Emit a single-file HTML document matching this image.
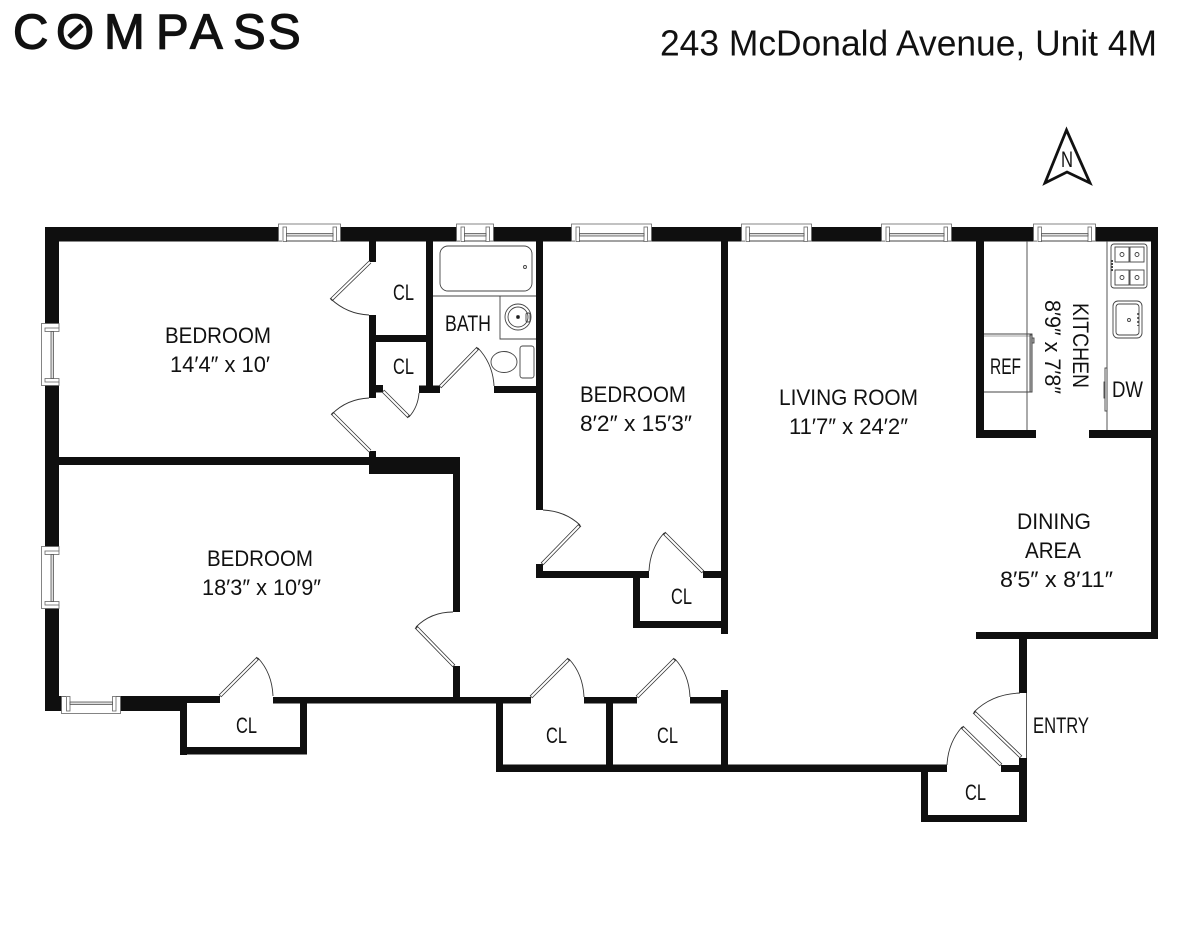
<!DOCTYPE html>
<html><head><meta charset="utf-8"><title>243 McDonald Avenue, Unit 4M</title>
<style>html,body{margin:0;padding:0;background:#fff}svg{display:block}
text{font-family:"Liberation Sans",sans-serif;fill:#111;font-size:22px}
.thin{fill:none;stroke:#444;stroke-width:.9}
.arc{fill:none;stroke:#333;stroke-width:.9}.po{stroke:#333;stroke-width:3.600}.pi{stroke:#fff;stroke-width:2}
.f{fill:#fff;stroke:#666;stroke-width:.8}.s{fill:#ddd;stroke:#555;stroke-width:.8}</style></head>
<body>
<svg width="1200" height="927" viewBox="0 0 1200 927" xmlns="http://www.w3.org/2000/svg">
<rect width="1200" height="927" fill="#fff"/>
<!-- logo -->
<text y="48.500" x="13 56 104 156 190 233 268" style="font-size:49px;stroke:#111;stroke-width:1.200">COMPASS</text>
<line x1="69" y1="37" x2="82" y2="25" stroke="#111" stroke-width="5"/>
<text x="660" y="55.500" textLength="497" lengthAdjust="spacingAndGlyphs" style="font-size:36px">243 McDonald Avenue, Unit 4M</text>
<!-- north -->
<path d="M1066.500 130L1045 183L1067 172L1090 183Z" fill="#fff" stroke="#111" stroke-width="2.800"/>
<text x="1061" y="167" textLength="12" lengthAdjust="spacingAndGlyphs">N</text>
<!-- walls -->
<g fill="#0f0f0f">
<rect x="45" y="227" width="1113" height="14.500"/>
<rect x="45" y="227" width="14" height="484"/>
<rect x="1151" y="227" width="7" height="412"/>
<rect x="45" y="696" width="21" height="15"/>
<rect x="116" y="696" width="104" height="7"/>
<rect x="116" y="703" width="71" height="8"/>
<rect x="180" y="703" width="7" height="52"/>
<rect x="180" y="747" width="127" height="7.500"/>
<rect x="300" y="697" width="7" height="57"/>
<rect x="273" y="697" width="258" height="6.500"/>
<rect x="59" y="457" width="315" height="8"/>
<rect x="369" y="241" width="7" height="21"/>
<rect x="369" y="315" width="7" height="83"/>
<rect x="369" y="451" width="7" height="12"/>
<rect x="369" y="457" width="91" height="17"/>
<rect x="453" y="474" width="7" height="138"/>
<rect x="453" y="666" width="7" height="34"/>
<rect x="376" y="335" width="50" height="7"/>
<rect x="426" y="241" width="7" height="152"/>
<rect x="376" y="385" width="7" height="7.500"/>
<rect x="419" y="385.500" width="21" height="7.500"/>
<rect x="494" y="386" width="42" height="7"/>
<rect x="536" y="241" width="7" height="269"/>
<rect x="536" y="564" width="7" height="14"/>
<rect x="536" y="571" width="113" height="7"/>
<rect x="633" y="571" width="7" height="57"/>
<rect x="633" y="621" width="95" height="7"/>
<rect x="703" y="571" width="18" height="7"/>
<rect x="721" y="241" width="7" height="393"/>
<rect x="721" y="690" width="7" height="82"/>
<rect x="584" y="697" width="53" height="6.500"/>
<rect x="690" y="697" width="31" height="6.500"/>
<rect x="496" y="697" width="7" height="75"/>
<rect x="606" y="697" width="7" height="75"/>
<rect x="496" y="764.500" width="451" height="7.500"/>
<rect x="976" y="241" width="8" height="197"/>
<rect x="976" y="430" width="60" height="8"/>
<rect x="1089" y="430" width="69" height="8"/>
<rect x="976" y="632" width="182" height="7"/>
<rect x="1019" y="639" width="8" height="54"/>
<rect x="1019" y="758" width="8" height="64"/>
<rect x="1001" y="765" width="18" height="7"/>
<rect x="921" y="765" width="7" height="57"/>
<rect x="921" y="815" width="106" height="7"/>
</g>
<!-- windows -->
<g>
<rect class="f" x="278.500" y="224" width="62" height="17"/><rect fill="#fff" x="282" y="227" width="55" height="15"/><rect class="f" x="283" y="227" width="3.500" height="14.500"/><rect class="f" x="333" y="227" width="3.500" height="14.500"/><rect class="s" x="286.500" y="233.500" width="46.500" height="2.500"/><line class="thin" x1="286" y1="241" x2="333" y2="241"/>
<rect class="f" x="456.500" y="224" width="37" height="17"/><rect fill="#fff" x="460" y="227" width="30" height="15"/><rect class="f" x="461" y="227" width="3.500" height="14.500"/><rect class="f" x="486" y="227" width="3.500" height="14.500"/><rect class="s" x="464.500" y="233.500" width="21.500" height="2.500"/><line class="thin" x1="464" y1="241" x2="486" y2="241"/>
<rect class="f" x="571.500" y="224" width="80" height="17"/><rect fill="#fff" x="575" y="227" width="73" height="15"/><rect class="f" x="576" y="227" width="3.500" height="14.500"/><rect class="f" x="644" y="227" width="3.500" height="14.500"/><rect class="s" x="579.500" y="233.500" width="64.500" height="2.500"/><line class="thin" x1="579" y1="241" x2="644" y2="241"/>
<rect class="f" x="741.500" y="224" width="70" height="17"/><rect fill="#fff" x="745" y="227" width="63" height="15"/><rect class="f" x="746" y="227" width="3.500" height="14.500"/><rect class="f" x="804" y="227" width="3.500" height="14.500"/><rect class="s" x="749.500" y="233.500" width="54.500" height="2.500"/><line class="thin" x1="749" y1="241" x2="804" y2="241"/>
<rect class="f" x="881.500" y="224" width="70" height="17"/><rect fill="#fff" x="885" y="227" width="63" height="15"/><rect class="f" x="886" y="227" width="3.500" height="14.500"/><rect class="f" x="944" y="227" width="3.500" height="14.500"/><rect class="s" x="889.500" y="233.500" width="54.500" height="2.500"/><line class="thin" x1="889" y1="241" x2="944" y2="241"/>
<rect class="f" x="1033.500" y="224" width="62" height="17"/><rect fill="#fff" x="1037" y="227" width="55" height="15"/><rect class="f" x="1038" y="227" width="3.500" height="14.500"/><rect class="f" x="1088" y="227" width="3.500" height="14.500"/><rect class="s" x="1041.500" y="233.500" width="46.500" height="2.500"/><line class="thin" x1="1041" y1="241" x2="1088" y2="241"/>
<rect class="f" x="41.500" y="323.500" width="17.500" height="62"/><rect fill="#fff" x="45" y="328" width="14.500" height="54"/><rect class="f" x="45" y="328" width="14" height="3.500"/><rect class="f" x="45" y="378.500" width="14" height="3.500"/><rect class="s" x="51" y="331.500" width="2.500" height="47"/>
<rect class="f" x="41.500" y="546.500" width="17.500" height="62"/><rect fill="#fff" x="45" y="551" width="14.500" height="54"/><rect class="f" x="45" y="551" width="14" height="3.500"/><rect class="f" x="45" y="601.500" width="14" height="3.500"/><rect class="s" x="51" y="554.500" width="2.500" height="47"/>
<rect class="f" x="61.500" y="696.500" width="59" height="17"/><rect fill="#fff" x="66" y="696" width="50" height="15"/><rect class="f" x="66.500" y="696.500" width="3.500" height="14.500"/><rect class="f" x="112.500" y="696.500" width="3.500" height="14.500"/><rect class="s" x="70" y="702" width="42.500" height="2.500"/>
</g>
<!-- doors -->
<g fill="none">
<path class="arc" d="M331 299Q347 314 369 315"/><line class="po" x1="370" y1="262" x2="331" y2="300"/><line class="pi" x1="370" y1="262" x2="332" y2="299"/>
<path class="arc" d="M332 414Q347 399 369 398"/><line class="po" x1="370" y1="451" x2="332" y2="413"/><line class="pi" x1="370" y1="451" x2="333" y2="414"/>
<path class="arc" d="M409 417Q418 407 419 393"/><line class="po" x1="383" y1="391" x2="409" y2="417"/><line class="pi" x1="383.500" y1="391.500" x2="408" y2="416"/>
<path class="arc" d="M478 348Q493 364 494 386"/><line class="po" x1="440" y1="387" x2="478" y2="348"/><line class="pi" x1="440.500" y1="386.500" x2="477" y2="349"/>
<path class="arc" d="M580 525Q565 511 543 510"/><line class="po" x1="542" y1="564" x2="580" y2="525"/><line class="pi" x1="542.500" y1="563.500" x2="579" y2="526"/>
<path class="arc" d="M664 533Q650 549 649 571"/><line class="po" x1="703" y1="572" x2="664" y2="533"/><line class="pi" x1="702.500" y1="571.500" x2="665" y2="534"/>
<path class="arc" d="M416 627Q431 612 453 612"/><line class="po" x1="454" y1="666" x2="416" y2="627"/><line class="pi" x1="453.500" y1="665.500" x2="417" y2="628"/>
<path class="arc" d="M569 659Q583 674 584 697"/><line class="po" x1="531" y1="697" x2="569" y2="659"/><line class="pi" x1="531.500" y1="696.500" x2="568" y2="660"/>
<path class="arc" d="M675 659Q689 674 690 697"/><line class="po" x1="637" y1="697" x2="675" y2="659"/><line class="pi" x1="637.500" y1="696.500" x2="674" y2="660"/>
<path class="arc" d="M258 658Q272 673 273 696"/><line class="po" x1="220" y1="696" x2="258" y2="658"/><line class="pi" x1="220.500" y1="695.500" x2="257" y2="659"/>
<path class="arc" d="M974 712Q992 694 1020 693"/><line class="po" x1="1021" y1="757" x2="974" y2="712"/><line class="pi" x1="1020.500" y1="756.500" x2="975" y2="713"/>
<path class="arc" d="M962 727Q948 743 947 765"/><line class="po" x1="1001" y1="765" x2="962" y2="727"/><line class="pi" x1="1000.500" y1="764.500" x2="963" y2="728"/>
<line class="thin" x1="1026.500" y1="693" x2="1026.500" y2="758"/>
</g>
<!-- bath fixtures -->
<g class="thin">
<rect x="440" y="246" width="92" height="45" rx="8"/><circle cx="525" cy="267" r="1.500"/>
<path d="M433 296H536M500 296V339H536"/>
<circle cx="518" cy="317" r="13"/><circle cx="518" cy="317" r="10"/><circle cx="518" cy="317" r="1.500" fill="#111"/>
<rect x="526" y="313" width="4" height="9" rx="1.500"/>
<ellipse cx="504" cy="362" rx="13" ry="10.500"/><rect x="520" y="346" width="14" height="32" rx="2.500"/>
</g>
<!-- kitchen fixtures -->
<g class="thin">
<path d="M1027 241V430M1107 241V430"/>
<path d="M984 334H1032V392H984"/><path d="M984 336H1030" stroke-width=".6"/><rect x="1030" y="335" width="2" height="57" fill="#bbb"/><rect x="1032" y="338" width="2" height="5" fill="#bbb"/>
<rect x="1111" y="244" width="36" height="44" rx="3"/><rect x="1115" y="247" width="14" height="15"/><rect x="1130" y="247" width="14" height="15"/><rect x="1115" y="270" width="14" height="15"/><rect x="1130" y="270" width="14" height="15"/>
<circle cx="1122" cy="254.500" r="2"/><circle cx="1137" cy="254.500" r="2"/><circle cx="1122" cy="277.500" r="2"/><circle cx="1137" cy="277.500" r="2"/>
<path d="M1112 260V272" stroke-dasharray="2 1" stroke-width="2"/>
<rect x="1113" y="301" width="29" height="37" rx="5"/><rect x="1116" y="304" width="23" height="31" rx="3"/><circle cx="1129" cy="320" r="1.500"/>
<path d="M1138 313V326" stroke-dasharray="2 2" stroke-width="1.500"/>
<rect x="1105" y="368" width="2" height="43" fill="#fff"/><rect x="1104" y="382" width="1" height="16" fill="#ccc"/>
</g>
<!-- labels -->
<text x="165" y="343" textLength="106" lengthAdjust="spacingAndGlyphs">BEDROOM</text>
<text x="170" y="372" textLength="100" lengthAdjust="spacingAndGlyphs">14′4″ x 10′</text>
<text x="207" y="566" textLength="106" lengthAdjust="spacingAndGlyphs">BEDROOM</text>
<text x="202" y="595" textLength="119" lengthAdjust="spacingAndGlyphs">18′3″ x 10′9″</text>
<text x="580" y="402" textLength="106" lengthAdjust="spacingAndGlyphs">BEDROOM</text>
<text x="580" y="431" textLength="112" lengthAdjust="spacingAndGlyphs">8′2″ x 15′3″</text>
<text x="779" y="405" textLength="139" lengthAdjust="spacingAndGlyphs">LIVING ROOM</text>
<text x="789" y="434" textLength="119" lengthAdjust="spacingAndGlyphs">11′7″ x 24′2″</text>
<text x="1017" y="529" textLength="74" lengthAdjust="spacingAndGlyphs">DINING</text>
<text x="1025" y="558" textLength="56" lengthAdjust="spacingAndGlyphs">AREA</text>
<text x="1000" y="587" textLength="113" lengthAdjust="spacingAndGlyphs">8′5″ x 8′11″</text>
<text x="393" y="300" textLength="21" lengthAdjust="spacingAndGlyphs">CL</text>
<text x="393" y="374" textLength="21" lengthAdjust="spacingAndGlyphs">CL</text>
<text x="445" y="331" textLength="46" lengthAdjust="spacingAndGlyphs">BATH</text>
<text x="671" y="604" textLength="21" lengthAdjust="spacingAndGlyphs">CL</text>
<text x="236" y="733" textLength="21" lengthAdjust="spacingAndGlyphs">CL</text>
<text x="546" y="743" textLength="21" lengthAdjust="spacingAndGlyphs">CL</text>
<text x="657" y="743" textLength="21" lengthAdjust="spacingAndGlyphs">CL</text>
<text x="965" y="800" textLength="21" lengthAdjust="spacingAndGlyphs">CL</text>
<text x="1033" y="733" textLength="56" lengthAdjust="spacingAndGlyphs">ENTRY</text>
<text x="990" y="374" textLength="31" lengthAdjust="spacingAndGlyphs">REF</text>
<text x="1112" y="397" textLength="31" lengthAdjust="spacingAndGlyphs">DW</text>
<text transform="translate(1073 303) rotate(90)" textLength="85" lengthAdjust="spacingAndGlyphs">KITCHEN</text>
<text transform="translate(1045 300) rotate(90)" textLength="94" lengthAdjust="spacingAndGlyphs">8′9″ x 7′8″</text>
</svg>
</body></html>
